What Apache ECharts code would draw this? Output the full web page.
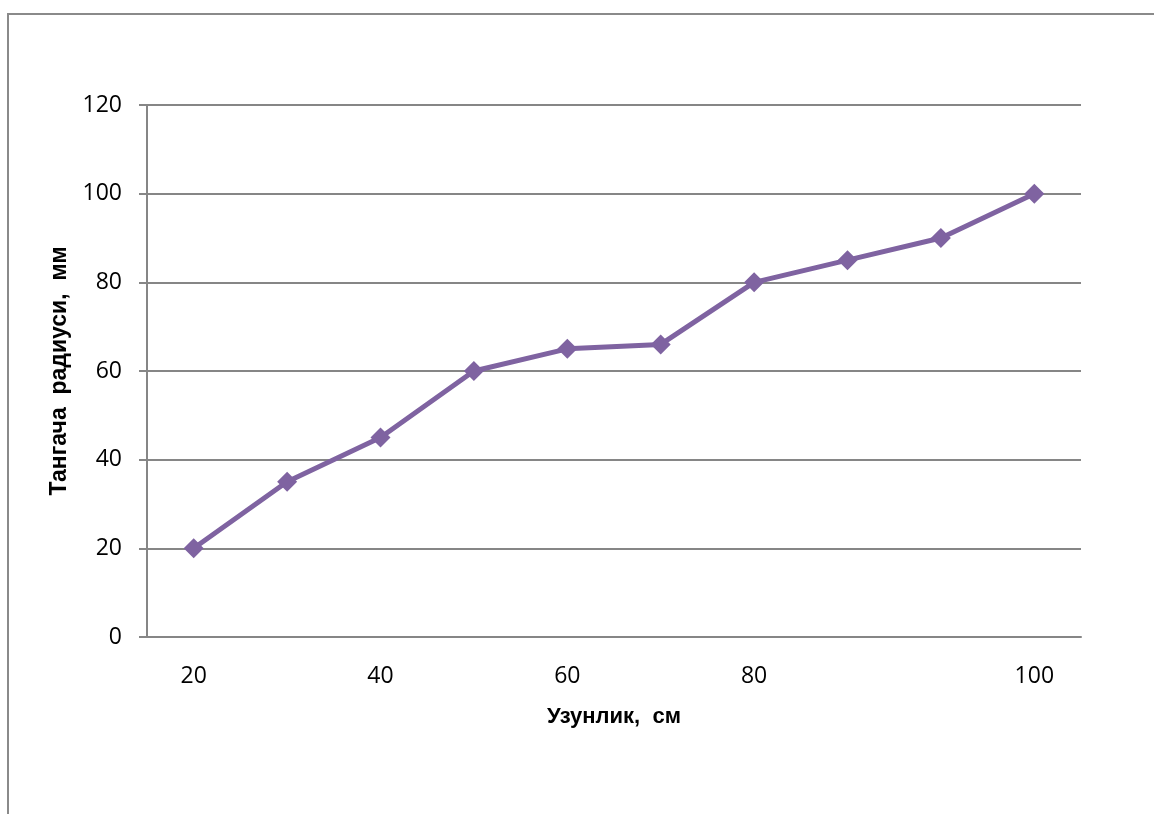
<!DOCTYPE html>
<html>
<head>
<meta charset="utf-8">
<script src="https://cdn.jsdelivr.net/npm/echarts@6/dist/echarts.min.js"></script>
<style>
  html, body { margin: 0; padding: 0; background: #fff; }
  #chart { width: 1154px; height: 814px; }
</style>
</head>
<body>
<div id="chart"></div>
<script>
// Length (cm) categories and tangent radius (mm) values
const categories = ['20', '30', '40', '50', '60', '70', '80', '85', '90', '100'];
const tickLabels = ['20', '', '40', '', '60', '', '80', '', '', '100'];
const radius = [20, 35, 45, 60, 65, 66, 80, 85, 90, 100];
const yTicks = [0, 20, 40, 60, 80, 100, 120];

const chart = echarts.init(document.getElementById('chart'), null, { renderer: 'canvas' });
const labelFont = '"Open Sans", "Liberation Sans", sans-serif';
const titleFont = '"Liberation Sans", Arial, sans-serif';

chart.setOption({
  animation: false,
  backgroundColor: '#ffffff',
  graphic: [{
    type: 'rect',
    shape: { x: 8, y: 14, width: 1200, height: 900 },
    style: { fill: 'none', stroke: '#8a8a8a', lineWidth: 2 },
    silent: true
  }],
  grid: { left: 147, right: 73, top: 105, bottom: 177 },
  xAxis: {
    type: 'category',
    data: categories,
    boundaryGap: true,
    name: 'Узунлик,  см',
    nameLocation: 'middle',
    nameGap: 69,
    nameTextStyle: { fontFamily: titleFont, fontWeight: 'bold', fontSize: 22, color: '#000' },
    axisLine: { lineStyle: { color: '#868686', width: 2 } },
    axisTick: { show: false },
    axisLabel: {
      interval: 0,
      margin: 28,
      fontFamily: labelFont, fontSize: 23, color: '#000',
      formatter: (v, i) => tickLabels[i]
    }
  },
  yAxis: {
    type: 'value',
    min: yTicks[0],
    max: yTicks[yTicks.length - 1],
    interval: 20,
    name: 'Тангача  радиуси,  мм',
    nameLocation: 'middle',
    nameGap: 74,
    nameTextStyle: { fontFamily: titleFont, fontWeight: 'bold', fontSize: 23, color: '#000' },
    axisLine: { show: true, lineStyle: { color: '#868686', width: 2 } },
    axisTick: { show: true, length: 8, lineStyle: { color: '#868686', width: 2 } },
    axisLabel: { margin: 25, fontFamily: labelFont, fontSize: 23, color: '#000' },
    splitLine: { lineStyle: { color: '#868686', width: 2 } }
  },
  series: [{
    type: 'line',
    data: radius,
    symbol: 'diamond',
    symbolSize: 20,
    lineStyle: { color: '#7F63A1', width: 5 },
    itemStyle: { color: '#7F63A1' }
  }]
});
</script>
</body>
</html>
